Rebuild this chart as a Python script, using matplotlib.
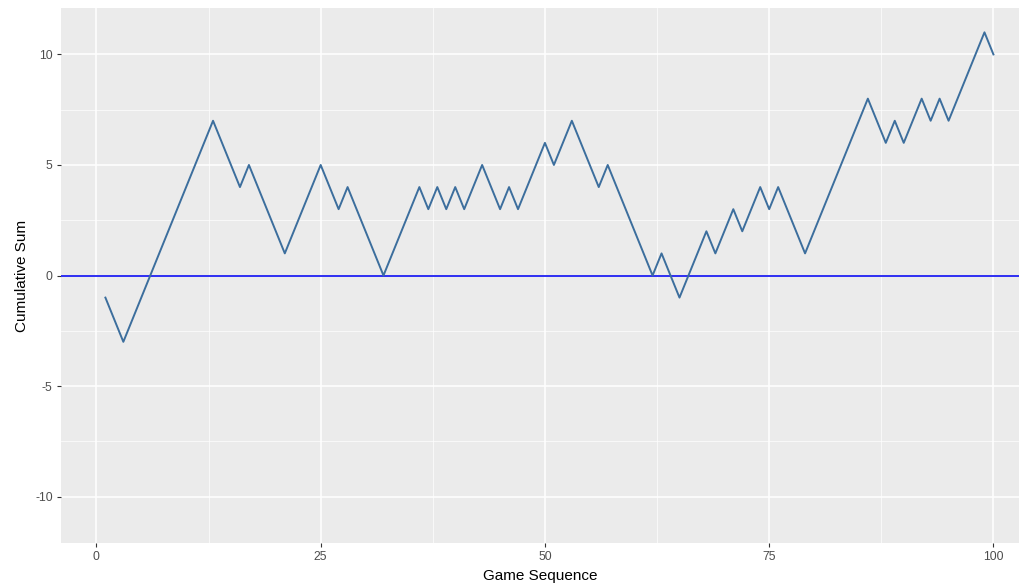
import matplotlib
matplotlib.use("Agg")
import matplotlib.pyplot as plt
from matplotlib.ticker import MultipleLocator

plt.rcParams['font.family'] = ['Liberation Sans', 'DejaVu Sans']
plt.rcParams['axes.unicode_minus'] = False

games = list(range(1, 101))
cum_sum = [
    -1, -2, -3, -2, -1, 0, 1, 2, 3, 4,
    5, 6, 7, 6, 5, 4, 5, 4, 3, 2,
    1, 2, 3, 4, 5, 4, 3, 4, 3, 2,
    1, 0, 1, 2, 3, 4, 3, 4, 3, 4,
    3, 4, 5, 4, 3, 4, 3, 4, 5, 6,
    5, 6, 7, 6, 5, 4, 5, 4, 3, 2,
    1, 0, 1, 0, -1, 0, 1, 2, 1, 2,
    3, 2, 3, 4, 3, 4, 3, 2, 1, 2,
    3, 4, 5, 6, 7, 8, 7, 6, 7, 6,
    7, 8, 7, 8, 7, 8, 9, 10, 11, 10,
]
x_ticks = [0, 25, 50, 75, 100]
y_ticks = [-10, -5, 0, 5, 10]

W, H = 1019, 585
fig = plt.figure(figsize=(W / 100, H / 100), dpi=100)
ax = fig.add_axes([61 / W, (H - 543) / H, (W - 61) / W, (543 - 8) / H])

ax.set_facecolor('#EBEBEB')
ax.set_xlim(-3.95, 102.85)
ax.set_ylim(-12.1, 12.1)
ax.set_xticks(x_ticks)
ax.set_yticks(y_ticks)
ax.xaxis.set_minor_locator(MultipleLocator(12.5))
ax.yaxis.set_minor_locator(MultipleLocator(2.5))
ax.grid(which='major', color='white', linewidth=1.1)
ax.grid(which='minor', color='white', linewidth=0.6, alpha=0.8)
ax.set_axisbelow(True)
for s in ax.spines.values():
    s.set_visible(False)
ax.tick_params(which='major', length=3, width=0.8, color='#333333',
               labelcolor='#4D4D4D', labelsize=8.8, pad=3)
ax.tick_params(which='minor', length=0)

ax.axhline(0, color='#2E2EF2', linewidth=1.4, zorder=2)
ax.plot(games, cum_sum, color='#3C6E9D', linewidth=1.4, zorder=3)

ax.set_xlabel('Game Sequence', fontsize=11, color='black', labelpad=4)
ax.set_ylabel('Cumulative Sum', fontsize=11, color='black', labelpad=4)

fig.savefig('out.png', dpi=100)
